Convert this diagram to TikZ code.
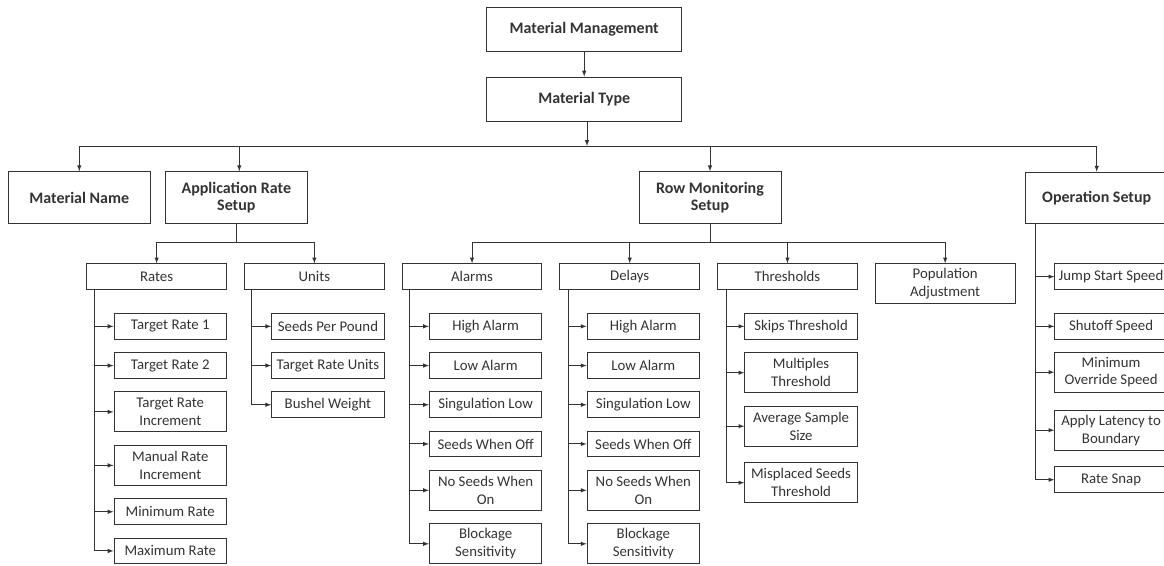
\documentclass[tikz,border=0pt]{standalone}
\usepackage{fontspec}
\setmainfont{Carlito}
\usetikzlibrary{positioning,arrows.meta}
\begin{document}
\begin{tikzpicture}[x=1pt,y=-1pt,>=latex,line width=1pt,color=black!80]
\tikzstyle{rootbox}=[draw,minimum width=195pt,minimum height=44pt,
  font=\bfseries\fontsize{16}{16.5}\selectfont]
\tikzstyle{mainbox}=[draw,minimum width=142pt,minimum height=51.6pt,
  align=center,inner sep=2pt,font=\bfseries\fontsize{16}{16.3}\selectfont]
\tikzstyle{groupbox}=[draw,minimum width=139.7pt,minimum height=25.7pt,
  align=center,inner sep=2pt,font=\fontsize{14.8}{17.7}\selectfont]
\tikzstyle{leafbox}=[draw,minimum width=112.5pt,minimum height=25.7pt,
  align=center,inner sep=2pt,font=\fontsize{14.8}{17.7}\selectfont]
\tikzstyle{leaftwo}=[leafbox,minimum height=40pt]

\useasboundingbox (0,0) rectangle (1164,565);
\clip (0,0) rectangle (1164,565);

\node[rootbox] (mm) at (584.2,29) {Material Management};
\node[rootbox,below=25pt of mm] (mt) {Material Type};

\node[mainbox] (mname) at (79.3,197.5) {Material Name};
\node[mainbox,right=14pt of mname] (ars) {Application Rate\\Setup};
\node[mainbox] (rms) at (710,197.5) {Row Monitoring\\Setup};
\node[mainbox] (os) at (1096.7,198) {Operation Setup};

\node[groupbox,anchor=north west] (rates) at (86.3,263.3) {Rates};
\node[groupbox,right=17pt of rates] (units) {Units};
\node[groupbox,right=17pt of units] (alarms) {Alarms};
\node[groupbox,right=17pt of alarms] (delays) {Delays};
\node[groupbox,right=17pt of delays] (thr) {Thresholds};
\node[groupbox,minimum height=40pt,right=17pt of thr.north east,anchor=north west] (pop)
  {Population\\Adjustment};

\node[leafbox,below=23pt of rates.south east,anchor=north east] (r1) {Target Rate 1};
\node[leafbox,below=12.5pt of r1] (r2) {Target Rate 2};
\node[leaftwo,below=12.5pt of r2] (r3) {Target Rate\\Increment};
\node[leaftwo,below=12.5pt of r3] (r4) {Manual Rate\\Increment};
\node[leafbox,below=12.5pt of r4] (r5) {Minimum Rate};
\node[leafbox,below=12.5pt of r5] (r6) {Maximum Rate};

\node[leafbox,below=23pt of units.south east,anchor=north east] (u1) {Seeds Per Pound};
\node[leafbox,below=12.5pt of u1] (u2) {Target Rate Units};
\node[leafbox,below=12.5pt of u2] (u3) {Bushel Weight};

\node[leafbox,below=23pt of alarms.south east,anchor=north east] (a1) {High Alarm};
\node[leafbox,below=12.5pt of a1] (a2) {Low Alarm};
\node[leafbox,below=12.5pt of a2] (a3) {Singulation Low};
\node[leafbox,below=12.5pt of a3] (a4) {Seeds When Off};
\node[leaftwo,below=12.5pt of a4] (a5) {No Seeds When\\On};
\node[leaftwo,below=12.5pt of a5] (a6) {Blockage\\Sensitivity};

\node[leafbox,below=23pt of delays.south east,anchor=north east] (d1) {High Alarm};
\node[leafbox,below=12.5pt of d1] (d2) {Low Alarm};
\node[leafbox,below=12.5pt of d2] (d3) {Singulation Low};
\node[leafbox,below=12.5pt of d3] (d4) {Seeds When Off};
\node[leaftwo,below=12.5pt of d4] (d5) {No Seeds When\\On};
\node[leaftwo,below=12.5pt of d5] (d6) {Blockage\\Sensitivity};

\node[leafbox,below=23pt of thr.south east,anchor=north east] (t1) {Skips Threshold};
\node[leaftwo,below=12.5pt of t1] (t2) {Multiples\\Threshold};
\node[leaftwo,below=12.5pt of t2] (t3) {Average Sample\\Size};
\node[leaftwo,below=15.5pt of t3] (t4) {Misplaced Seeds\\Threshold};

\node[leafbox,anchor=north west] (o1) at (1054.3,263.3) {Jump Start Speed};
\node[leafbox,below=23pt of o1] (o2) {Shutoff Speed};
\node[leaftwo,below=12pt of o2] (o3) {Minimum\\Override Speed};
\node[leaftwo,below=17pt of o3] (o4) {Apply Latency to\\Boundary};
\node[leafbox,below=15.7pt of o4] (o5) {Rate Snap};

\draw[->] (mm) -- (mt);
\coordinate (bus) at (587,146);
\draw[->] (mt.south -| bus) -- (bus);
\draw[->] (bus) -| (mname.north);
\draw[->] (bus) -| ([xshift=3pt]ars.north);
\draw[->] (bus) -| (rms.north);
\draw[->] (bus) -| (os.north);

\coordinate (arsbus) at ([yshift=-19pt]ars.south);
\draw (ars.south) -- (arsbus);
\draw[->] (arsbus) -| (rates.north);
\draw[->] (arsbus) -| (units.north);

\coordinate (rmsbus) at ([yshift=-19pt]rms.south);
\draw (rms.south) -- (rmsbus);
\draw[->] (rmsbus) -| (alarms.north);
\draw[->] (rmsbus) -| (delays.north);
\draw[->] (rmsbus) -| (thr.north);
\draw[->] (rmsbus) -| (pop.north);

\draw[->] ([xshift=8.4pt]rates.south west) |- (r1.west);
\draw[->] ([xshift=8.4pt]rates.south west) |- (r2.west);
\draw[->] ([xshift=8.4pt]rates.south west) |- (r3.west);
\draw[->] ([xshift=8.4pt]rates.south west) |- (r4.west);
\draw[->] ([xshift=8.4pt]rates.south west) |- (r5.west);
\draw[->] ([xshift=8.4pt]rates.south west) |- (r6.west);

\draw[->] ([xshift=7pt]units.south west) |- (u1.west);
\draw[->] ([xshift=7pt]units.south west) |- (u2.west);
\draw[->] ([xshift=7pt]units.south west) |- (u3.west);

\draw[->] ([xshift=7.6pt]alarms.south west) |- (a1.west);
\draw[->] ([xshift=7.6pt]alarms.south west) |- (a2.west);
\draw[->] ([xshift=7.6pt]alarms.south west) |- (a3.west);
\draw[->] ([xshift=7.6pt]alarms.south west) |- (a4.west);
\draw[->] ([xshift=7.6pt]alarms.south west) |- (a5.west);
\draw[->] ([xshift=7.6pt]alarms.south west) |- (a6.west);

\draw[->] ([xshift=8.7pt]delays.south west) |- (d1.west);
\draw[->] ([xshift=8.7pt]delays.south west) |- (d2.west);
\draw[->] ([xshift=8.7pt]delays.south west) |- (d3.west);
\draw[->] ([xshift=8.7pt]delays.south west) |- (d4.west);
\draw[->] ([xshift=8.7pt]delays.south west) |- (d5.west);
\draw[->] ([xshift=8.7pt]delays.south west) |- (d6.west);

\draw[->] ([xshift=9pt]thr.south west) |- (t1.west);
\draw[->] ([xshift=9pt]thr.south west) |- (t2.west);
\draw[->] ([xshift=9pt]thr.south west) |- (t3.west);
\draw[->] ([xshift=9pt]thr.south west) |- (t4.west);

\draw[->] ([xshift=10.3pt]os.south west) |- (o1.west);
\draw[->] ([xshift=10.3pt]os.south west) |- (o2.west);
\draw[->] ([xshift=10.3pt]os.south west) |- (o3.west);
\draw[->] ([xshift=10.3pt]os.south west) |- (o4.west);
\draw[->] ([xshift=10.3pt]os.south west) |- (o5.west);
\end{tikzpicture}
\end{document}
